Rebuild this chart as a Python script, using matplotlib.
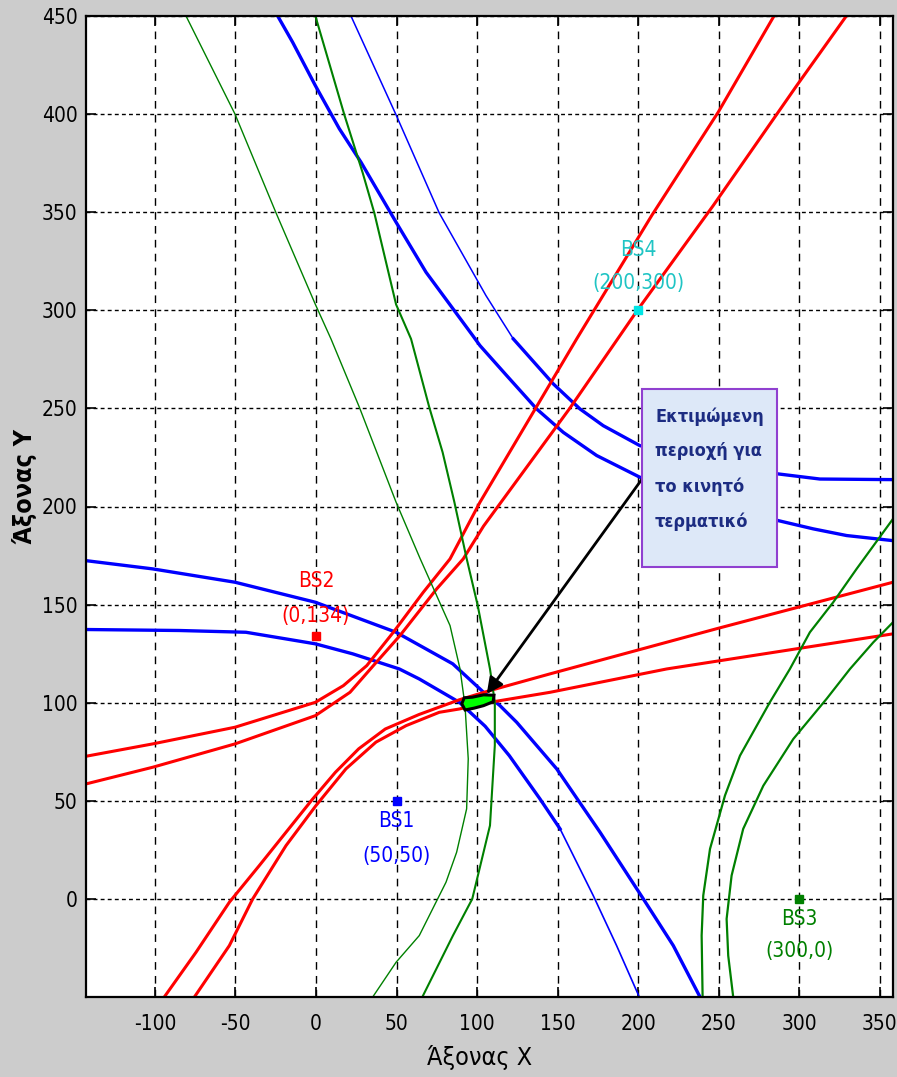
import matplotlib
matplotlib.use("Agg")
import matplotlib.pyplot as plt
from matplotlib.patches import Rectangle, Polygon

plt.rcParams['font.family'] = ['DejaVu Sans']
plt.rcParams['font.stretch'] = 'condensed'
plt.rcParams['axes.unicode_minus'] = False

# base stations
bs_names = ['BS1', 'BS2', 'BS3', 'BS4']
bs_x = [50, 0, 300, 200]
bs_y = [50, 134, 0, 300]
bs_colors = ['#0000ff', '#ff0000', '#008000', '#00e5e5']
bs_text_colors = ['#0000ff', '#ff0000', '#008000', '#20c4c4']

# hyperbolas BS1/BS4 (blue)
blue_e_x = [-23.8, -14.5, -0.4, 14.5, 27.9, 49.7, 68.3, 97.3, 101.8, 118.4, 137, 153.5, 174.2, 201.1, 287, 308.7, 329.4, 358.2]
blue_e_y = [450, 436.6, 414.5, 392.5, 375.5, 344.9, 319.4, 287.1, 282, 266.7, 249.7, 237.8, 226, 214.9, 192.8, 188.6, 185.2, 182.6]
blue_f1_x = [21.7, 49.7, 76.5, 105.5, 122.5]
blue_f1_y = [450, 399.6, 349.6, 307.5, 285.4]
blue_f2_x = [122.5, 147.3, 163.9, 178.3, 201.1, 287, 312.8, 358.2]
blue_f2_y = [285.4, 262.5, 249.7, 241.2, 231, 216.6, 214, 213.7]
blue_g_x = [-142.8, -101.4, -50.3, -0.4, 49.7, 84.9, 103.9, 114.2, 124.6, 149.4, 176.3, 203.2, 221.8, 238.4]
blue_g_y = [172.4, 168.2, 161.4, 151.2, 135.9, 119.8, 105.4, 98.5, 90, 66.3, 34, 0, -23.8, -50]
blue_h1_x = [-142.8, -84.9, -43.5, -18.6, -0.4, 22.8, 51.7, 64.1, 89, 105, 120, 139, 151.5]
blue_h1_y = [137.3, 136.8, 135.9, 132.5, 130, 124.9, 117.2, 112.1, 100.2, 88, 73, 51, 35.7]
blue_h2_x = [151.5, 172.1, 186.6, 200.7]
blue_h2_y = [35.7, 1.7, -23.8, -50]

# hyperbolas BS1/BS2 (red)
red_a_x = [-142.8, -101.4, -50.3, -0.4, 17, 31.5, 48, 66.6, 83.2, 101.8, 161.8, 208.4, 249.7, 283.9]
red_a_y = [72.7, 79, 87.5, 100.2, 108.7, 118.9, 135.9, 156.3, 173.3, 202.2, 285.4, 348.3, 401, 449.4]
red_b_x = [-142.8, -101.4, -50.3, -0.4, 21.1, 35.6, 52.1, 74.9, 91.4, 104, 157.5, 200.1, 246.6, 298.4, 329.4]
red_b_y = [58.6, 67.1, 79, 93.4, 105.3, 118.9, 134.2, 158, 173.3, 190, 250, 300.7, 353.4, 414.5, 450.2]
red_c_x = [-94.2, -74.5, -53.8, -35.2, -18.6, -2.5, 12, 26.5, 43, 64, 89, 108, 145.3, 250, 358.2]
red_c_y = [-50, -27.2, -1.7, 17, 34, 50.5, 64.5, 76.5, 86.6, 94, 101.5, 106.2, 114.7, 138, 161.4]
red_d_x = [-75.5, -53.8, -39.3, -18.6, 0, 18.6, 37.2, 55.9, 76.5, 89, 108, 145.3, 217.7, 358.2]
red_d_y = [-50, -23.8, 0, 27.2, 47.6, 66.3, 79.9, 88.3, 95.1, 96.8, 100.2, 105.3, 117.2, 135.1]

# hyperbolas with BS3 (green)
green_a_x = [-80.7, -50.3, -24.8, -0.4, 9.3, 26.9, 49.7, 64.6, 83.2, 89.4, 92.5, 94.5, 93.5, 87.3, 80.7, 64.1, 49.7, 35.2]
green_a_y = [450, 400, 349.6, 303, 285.4, 250.6, 202.2, 173.5, 139.3, 117.2, 98.5, 71.4, 45.9, 23.8, 8.5, -18.7, -32.3, -50]
green_b_x = [-0.4, 17.6, 29, 36.2, 49.7, 59, 70.3, 78.6, 85.9, 93.5, 100.4, 108, 111, 111, 108, 102, 97, 85, 66]
green_b_y = [450, 399.6, 370, 349.6, 303, 285.4, 250.6, 227.6, 202.2, 173.5, 149.5, 117.2, 100.2, 78.2, 37.4, 17, 0, -18.7, -50]
green_c_x = [358.2, 335.6, 321.1, 306.6, 294.2, 281.8, 263.2, 253.9, 244.6, 240.4, 239.4, 240]
green_c_y = [193.7, 168.2, 151.2, 135.9, 117.2, 100.3, 73, 52.7, 25.5, 1.7, -18.7, -50]
green_d_x = [358.2, 346, 331.5, 317, 296.3, 277.7, 265.2, 258, 254.9, 255.9, 259]
green_d_y = [141, 130.8, 117.2, 102, 81.5, 57.7, 35.7, 11.9, -10.2, -28.9, -50]

# estimated region of the terminal
region_x = [90.5, 92.5, 98, 104, 110, 110.5, 104, 97, 92]
region_y = [99.5, 96.3, 97.2, 98.5, 100.5, 103.8, 104, 102.8, 102.5]

x_ticks = [-100, -50, 0, 50, 100, 150, 200, 250, 300, 350]
y_ticks = [0, 50, 100, 150, 200, 250, 300, 350, 400, 450]

box_lines = ['Εκτιμώμενη', 'περιοχή για', 'το κινητό', 'τερματικό']

fig = plt.figure(figsize=(8.97, 10.77), dpi=100, facecolor='#cccccc')
ax = fig.add_axes([86/897, 1-997/1077, 807/897, 981/1077])
ax.set_xlim(-142.8, 358.2)
ax.set_ylim(-50, 450)

# grid
ax.set_xticks(x_ticks)
ax.set_yticks(y_ticks)
ax.grid(True, axis='x', color='k', lw=1.0, linestyle=(0, (5.5, 4.5)))
ax.grid(True, axis='y', color='k', lw=1.0, linestyle=(0, (2.8, 2.3)))
ax.set_axisbelow(True)
ax.tick_params(direction='in', length=7, width=1.2, top=True, right=True,
               labelsize=15, colors='k')
ax.tick_params(axis='x', pad=12)
ax.tick_params(axis='y', pad=6)
for s in ax.spines.values():
    s.set_linewidth(1.6)

# curves
ax.plot(blue_e_x, blue_e_y, color='#0000ff', lw=2.4)
ax.plot(blue_f1_x, blue_f1_y, color='#0000ff', lw=1.1)
ax.plot(blue_f2_x, blue_f2_y, color='#0000ff', lw=2.4)
ax.plot(blue_g_x, blue_g_y, color='#0000ff', lw=2.4)
ax.plot(blue_h1_x, blue_h1_y, color='#0000ff', lw=2.4)
ax.plot(blue_h2_x, blue_h2_y, color='#0000ff', lw=1.2)

for xs, ys in [(red_a_x, red_a_y), (red_b_x, red_b_y), (red_c_x, red_c_y), (red_d_x, red_d_y)]:
    ax.plot(xs, ys, color='#ff0000', lw=2.2)

ax.plot(green_a_x, green_a_y, color='#008000', lw=1.0)
ax.plot(green_b_x, green_b_y, color='#008000', lw=1.5)
ax.plot(green_c_x, green_c_y, color='#008000', lw=1.6)
ax.plot(green_d_x, green_d_y, color='#008000', lw=1.6)

ax.add_patch(Polygon(list(zip(region_x, region_y)), closed=True, fc='#00ff00',
                     ec='k', lw=2.2, zorder=5))

# base stations and their labels
offsets = [(20, 55), (-55, -20), (20, 52), (-60, -27)]
for i in range(4):
    ax.plot(bs_x[i], bs_y[i], 's', color=bs_colors[i], ms=6, mec=bs_colors[i], zorder=6)
    ax.annotate(bs_names[i], (bs_x[i], bs_y[i]), xytext=(0, -offsets[i][0]),
                textcoords='offset pixels', ha='center', va='center',
                fontsize=15, color=bs_text_colors[i], zorder=7)
    ax.annotate('(%d,%d)' % (bs_x[i], bs_y[i]), (bs_x[i], bs_y[i]),
                xytext=(0, -offsets[i][1]), textcoords='offset pixels',
                ha='center', va='center', fontsize=15, color=bs_text_colors[i], zorder=7)

# arrow and text box
ax.annotate('', xy=(106, 104.5), xytext=(202.4, 214),
            arrowprops=dict(arrowstyle='-|>', color='k', lw=2.0,
                            mutation_scale=24, shrinkA=0, shrinkB=0), zorder=8)
ax.add_patch(Rectangle((202.4, 169.4), 83.6, 90.3, fc='#dde8f8', ec='#9040d0',
                       lw=1.5, zorder=9))
for k, line in enumerate(box_lines):
    ax.annotate(line, (210.5, 259.7), xytext=(0, -27 - 35 * k),
                textcoords='offset pixels', ha='left', va='center',
                fontsize=13, fontweight='bold', color='#1c2c82', zorder=10)

ax.set_xlabel('Άξονας Χ', fontsize=18, va='center')
ax.set_ylabel('Άξονας Υ', fontsize=18, fontweight='bold', va='center')
ax.xaxis.set_label_coords(0.488, -0.062)
ax.yaxis.set_label_coords(-0.076, 0.52)

fig.savefig('out.png', dpi=100, facecolor=fig.get_facecolor())
